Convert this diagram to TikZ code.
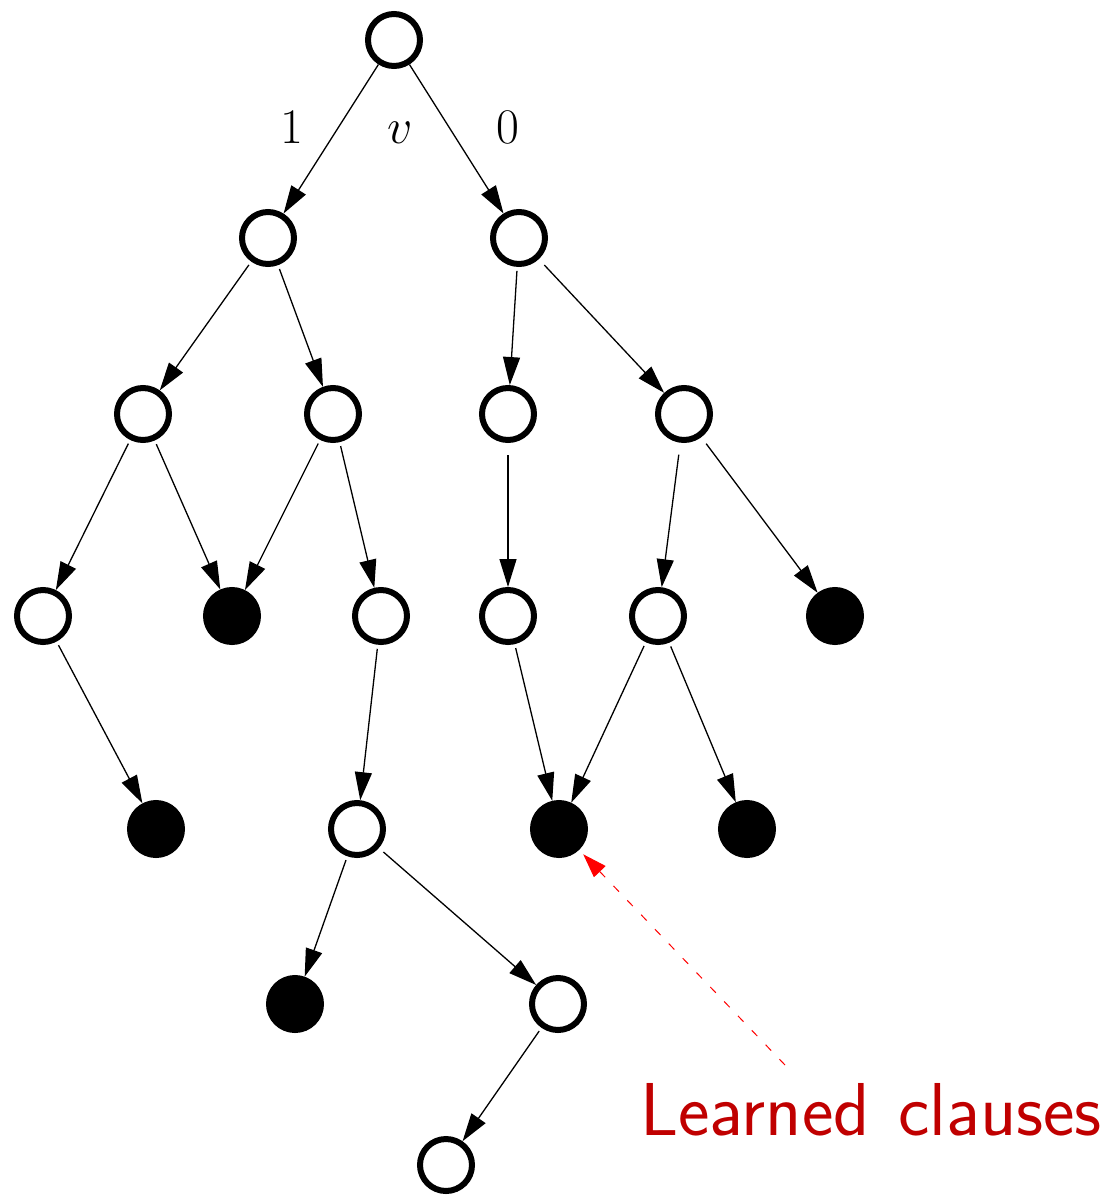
\documentclass[tikz,border=0pt]{standalone}
\usetikzlibrary{arrows.meta}
\definecolor{labelred}{RGB}{192,0,0}
\begin{document}
\begin{tikzpicture}[x=0.5pt,y=-0.5pt,
  vtx/.style={circle,draw=black,line width=3pt,minimum size=26pt,inner sep=0pt,fill=white},
  leaf/.style={vtx,fill=black},
  arc/.style={line width=0.65pt,-{Triangle[length=14pt,width=8.5pt]},shorten <=2pt},
  lbl/.style={font=\fontsize{29.5}{32}\selectfont,anchor=base,inner sep=0pt}]
\useasboundingbox (0,0) rectangle (1111,1201);
% search tree vertices
\node[vtx]  (root) at (394,40) {};
\node[vtx]  (a) at (268,238) {};
\node[vtx]  (b) at (519,238) {};
\node[vtx]  (c) at (143,414) {};
\node[vtx]  (d) at (333,414) {};
\node[vtx]  (e) at (508,414) {};
\node[vtx]  (f) at (684,414) {};
\node[vtx]  (g) at (43,616) {};
\node[leaf] (h) at (232,616) {};
\node[vtx]  (i) at (381,616) {};
\node[vtx]  (j) at (508,616) {};
\node[vtx]  (k) at (658,616) {};
\node[leaf] (l) at (835,616) {};
\node[leaf] (m) at (156,829) {};
\node[vtx]  (n) at (357,829) {};
\node[leaf] (o) at (559,829) {};
\node[leaf] (p) at (747,829) {};
\node[leaf] (q) at (295,1004) {};
\node[vtx]  (r) at (558,1004) {};
\node[vtx]  (s) at (446,1165) {};
% branch labels
\node[lbl] (one)  at (292,143) {$1$};
\node[lbl] (var)  at (400,143) {$v$};
\node[lbl] (zero) at (508,143) {$0$};
% tree edges
\draw[arc,shorten <=0pt] (root) -- (a);
\draw[arc,shorten <=0pt] (root) -- (b);
\draw[arc] (a) -- (c);
\draw[arc] (a) -- (d);
\draw[arc] (b) -- (e);
\draw[arc,shorten <=4pt] (b) -- (f);
\draw[arc] (c) -- (g);
\draw[arc] (c) -- (h);
\draw[arc] (d) -- (h);
\draw[arc] (d) -- (i);
\draw[arc,shorten <=6pt] (e) -- (j);
\draw[arc,shorten <=6pt] (f) -- (k);
\draw[arc,shorten <=4pt] (f) -- (l);
\draw[arc] (g) -- (m);
\draw[arc] (i) -- (n);
\draw[arc] (j) -- (o);
\draw[arc] (k) -- (o);
\draw[arc] (k) -- (p);
\draw[arc] (n) -- (q);
\draw[arc,shorten <=3pt] (n) -- (r);
\draw[arc] (r) -- (s);
% annotation
\node[font=\sffamily\fontsize{37.5}{42}\selectfont,text=labelred,anchor=base west,inner sep=0pt]
  (learned) at (640,1135) {Learned\hspace{0.38em}clauses};
\coordinate (dashstart) at (785,1065);
\draw[red,line width=0.5pt,dash pattern=on 4pt off 6pt,
  -{Triangle[length=12pt,width=8pt]},shorten >=3pt] (dashstart) -- (o);
\end{tikzpicture}
\end{document}
